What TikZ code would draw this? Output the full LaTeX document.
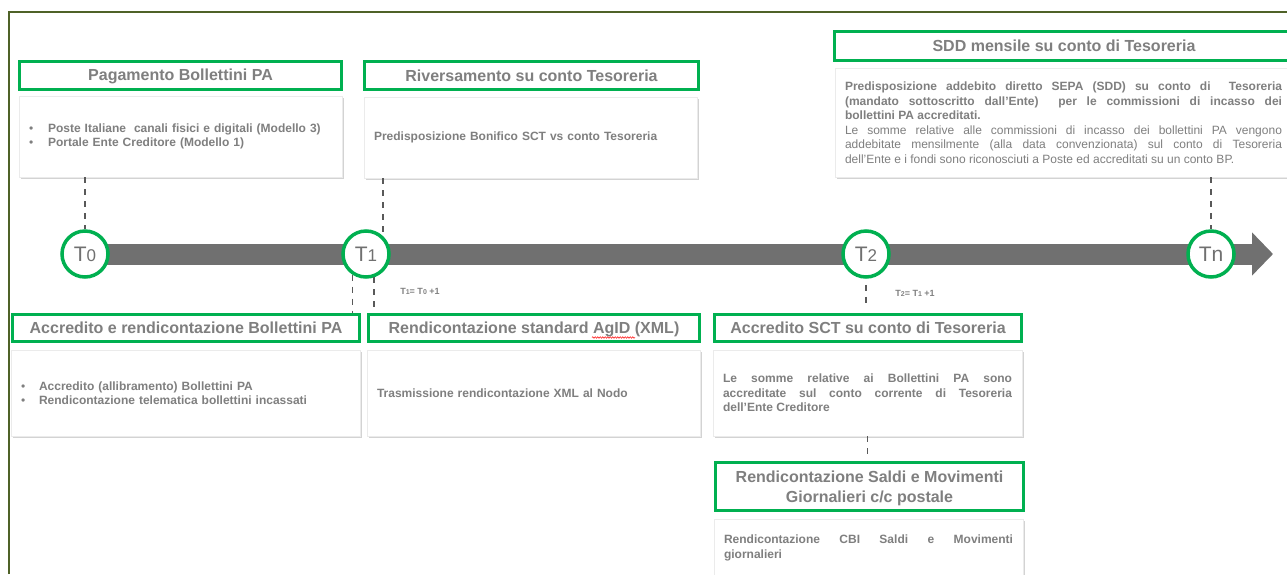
\documentclass[tikz,border=0pt]{standalone}
\usepackage{fontspec}
\setmainfont{Liberation Sans}
\usetikzlibrary{positioning, arrows.meta, shadows, backgrounds, decorations.pathmorphing}
\definecolor{posteg}{RGB}{0,176,80}
\definecolor{postetxt}{RGB}{127,127,127}
\definecolor{postebar}{RGB}{112,112,112}
\definecolor{posteframe}{RGB}{79,98,40}
\definecolor{postedash}{RGB}{89,89,89}
\newcommand{\bul}[1]{\makebox[#1][l]{\mdseries\textbullet}}
\newcommand{\tsub}[2]{T{\fontsize{#2}{#2}\selectfont #1}}
\begin{document}
\begin{tikzpicture}[x=1pt, y=-1pt,
    head/.style={draw=posteg, line width=3pt, fill=white, inner sep=0pt, align=center, text=postetxt, font=\fontsize{16}{20}\selectfont\bfseries},
    line1/.style={text height=12.5pt, text depth=1.5pt},
    body/.style={fill=white, draw=black!8, line width=0.4pt, drop shadow={shadow xshift=1.5pt, shadow yshift=-2pt, opacity=0.35}, inner xsep=10pt, inner ysep=0pt, align=left, text=postetxt, font=\fontsize{12}{14.5}\selectfont\bfseries},
    tnode/.style={circle, draw=posteg, line width=3.5pt, fill=white, minimum size=46pt, inner sep=0pt, text=postebar, font=\fontsize{21}{21}\selectfont},
    dashline/.style={postedash, line width=1.3pt, dash pattern=on 6pt off 6pt},
    bar/.style={postebar, line width=21pt, -{Triangle[length=21pt, width=42pt]}},
    delta/.style={text=postetxt, font=\fontsize{9}{9}\selectfont\bfseries},
    spell/.style={red, line width=0.5pt, decorate, decoration={snake, amplitude=0.8pt, segment length=2.5pt}}
  ]
  \useasboundingbox (0,0) rectangle (1287,574);
  \draw[posteframe, line width=2pt] (9,574) -- (9,12) -- (1287,12);

  \node[tnode] (t0) at (85,254)   {\tsub{0}{17}};
  \node[tnode] (t1) at (366,254)  {\tsub{1}{17}};
  \node[tnode] (t2) at (866,254)  {\tsub{2}{17}};
  \node[tnode] (tn) at (1211,254) {Tn};
  \coordinate (tip) at (1273,254);
  \begin{scope}[on background layer]
    \draw[bar] (t0.center) -- (tip);
  \end{scope}

  \node[head, line1, minimum width=322pt, minimum height=28pt] (h1) at (180.5,75) {Pagamento Bollettini PA};
  \node[body, text width=303pt, minimum height=81pt] (b1) at (180.5,136.5)
    {\bul{19pt}Poste Italiane\ \ canali fisici e digitali (Modello 3)\\ \bul{19pt}Portale Ente Creditore (Modello 1)};
  \node[head, line1, minimum width=334pt, minimum height=28pt] (h2) at (531.5,75.5) {Riversamento su conto Tesoreria};
  \node[body, text width=313pt, minimum height=81pt] (b2) at (530.5,137.5) {Predisposizione Bonifico SCT vs conto Tesoreria};
  \node[head, line1, minimum width=459pt, minimum height=29pt] (h3) at (1064,46) {SDD mensile su conto di Tesoreria};
  \node[body, text width=437pt, minimum height=109pt, align=justify] (b3) at (1063.5,122.5)
    {Predisposizione addebito diretto SEPA (SDD) su conto di\ \ Tesoreria\linebreak (mandato sottoscritto dall'Ente)\ \ per le commissioni di incasso dei\linebreak bollettini PA accreditati.\par
    {\mdseries Le somme relative alle commissioni di incasso dei bollettini PA vengono\linebreak addebitate mensilmente (alla data convenzionata) sul conto di Tesoreria\linebreak dell'Ente e i fondi sono riconosciuti a Poste ed accreditati su un conto BP.}};

  \node[head, line1, minimum width=347pt, minimum height=27pt] (h4) at (186,328) {Accredito e rendicontazione Bollettini PA};
  \node[body, text width=329pt, minimum height=86pt] (b4) at (185.5,393)
    {\bul{18pt}Accredito (allibramento) Bollettini PA\\ \bul{18pt}Rendicontazione telematica bollettini incassati};
  \node[head, line1, minimum width=331pt, minimum height=27pt] (h5) at (534,328) {Rendicontazione standard AgID (XML)};
  \draw[spell] ([xshift=58pt, yshift=-9.5pt]h5.center) -- ([xshift=101pt, yshift=-9.5pt]h5.center);
  \node[body, text width=313pt, minimum height=86pt] (b5) at (533.5,393) {Trasmissione rendicontazione XML al Nodo};
  \node[head, line1, minimum width=307pt, minimum height=27pt] (h6) at (868,328) {Accredito SCT su conto di Tesoreria};
  \node[body, text width=289pt, minimum height=86pt, align=justify] (b6) at (867.5,393)
    {Le somme relative ai Bollettini PA sono\linebreak accreditate sul conto corrente di Tesoreria\linebreak dell'Ente Creditore};
  \node[head, text depth=0pt, minimum width=308pt, minimum height=48pt] (h7) at (869.5,486.5) {Rendicontazione Saldi e Movimenti\\ Giornalieri c/c postale};
  \node[body, text width=289pt, minimum height=58pt, align=justify] (b7) at (868.5,548)
    {Rendicontazione CBI Saldi e Movimenti\linebreak giornalieri};

  \node[delta] (d1) at (420,291) {\tsub{1}{7}= \tsub{0}{7} +1};
  \node[delta] (d2) at (915,293) {\tsub{2}{7}= \tsub{1}{7} +1};

  \draw[dashline] (b1.south -| t0) -- (t0.north);
  \draw[dashline] (b2.south -| t1.47) -- (t1.47);
  \draw[dashline] (b3.south -| tn) -- (tn.north);
  \draw[dashline] (t1.-124) -- (t1.-124 |- h4.north);
  \draw[dashline] (t1.-71) -- (t1.-71 |- h5.north);
  \draw[dashline, shorten <=6pt, shorten >=6pt] (t2.south) -- (t2.south |- h6.north);
  \draw[dashline, shorten >=5pt] (b6.south) -- (b6.south |- h7.north);
\end{tikzpicture}
\end{document}
